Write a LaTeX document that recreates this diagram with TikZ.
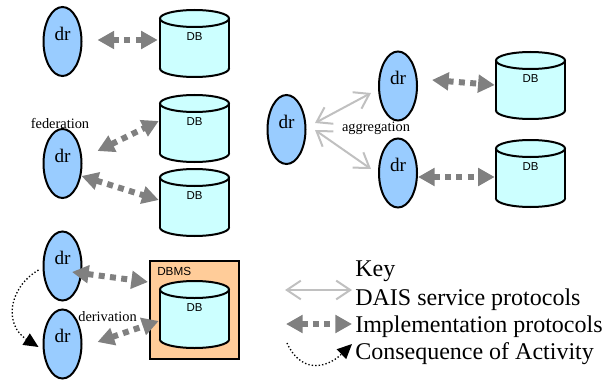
\documentclass[tikz,border=0pt]{standalone}
\usepackage{fontspec}
\setmainfont{Liberation Serif}
\newfontfamily\dbfont{Liberation Sans}
\usetikzlibrary{shapes.geometric,arrows.meta,calc}

\definecolor{drblue}{HTML}{99CCFF}
\definecolor{dbcyan}{HTML}{CCFFFF}
\definecolor{dbmsorange}{HTML}{FFCC99}
\definecolor{implgray}{HTML}{808080}
\definecolor{daisgray}{HTML}{C0C0C0}

\tikzset{
  drnode/.style={ellipse, draw=black, line width=1.5pt, fill=drblue,
    minimum width=28.5pt, minimum height=51.75pt, inner sep=0pt},
  drtext/.style={font=\fontsize{14.4}{16}\selectfont, inner sep=0pt, yshift=6pt},
  dbframe/.style={rectangle, minimum width=51.75pt, minimum height=50.25pt, inner sep=0pt},
  dbline/.style={draw=black, line width=1.5pt, fill=dbcyan},
  dbtext/.style={font=\dbfont\fontsize{8.6}{10}\selectfont, inner sep=0pt},
  dbmsbox/.style={rectangle, draw=black, line width=1.5pt, fill=dbmsorange,
    minimum width=66.75pt, minimum height=73.5pt, inner sep=0pt},
  relname/.style={font=\fontsize{10.8}{12}\selectfont, inner sep=0pt},
  keytext/.style={font=\fontsize{18}{20}\selectfont, inner sep=0pt, anchor=west},
  impl/.style={draw=implgray, line width=4.5pt, dash pattern=on 4.5pt off 4pt,
    {Triangle[length=12.5pt,width=13pt]}-{Triangle[length=12.5pt,width=13pt]}},
  dais/.style={draw=daisgray, line width=1.5pt,
    {Straight Barb[length=10.5pt,width=14pt]}-{Straight Barb[length=10.5pt,width=14pt]}},
  activity/.style={draw=black, line width=1pt, dash pattern=on 1pt off 1.6pt,
    -{Triangle[length=11pt,width=10pt]}},
}

% database cylinder: name, centre x, top y
\newcommand\dbcyl[3]{%
  \node[dbframe] (#1) at (#2,#3+33.5) {};
  \filldraw[dbline] (#2,#3+58.5) ellipse [x radius=34.5, y radius=8.5];
  \fill[dbcyan] (#2-34.5,#3+8.5) rectangle (#2+34.5,#3+58.5);
  \draw[line width=1.5pt] (#2-34.5,#3+8.5) -- (#2-34.5,#3+58.5)
                          (#2+34.5,#3+8.5) -- (#2+34.5,#3+58.5);
  \filldraw[dbline] (#2,#3+8.5) ellipse [x radius=34.5, y radius=8.5];
  \node[dbtext] (#1-label) at (#2,#3+27) {DB};
}

\begin{document}
\begin{tikzpicture}[x=0.75pt,y=-0.75pt]
\useasboundingbox (0,0) rectangle (602,381);

% data resources
\node[drnode] (d1) at (62.5,41.5) {};
\node[drtext] (d1-t) at (d1.center) {dr};
\node[drnode] (d2) at (62.5,163.5) {};
\node[drtext] (d2-t) at (d2.center) {dr};
\node[drnode] (d3) at (62.5,266) {};
\node[drtext] (d3-t) at (d3.center) {dr};
\node[drnode] (d4) at (62.5,344) {};
\node[drtext] (d4-t) at (d4.center) {dr};
\node[drnode] (d5) at (286.5,129.5) {};
\node[drtext] (d5-t) at (d5.center) {dr};
\node[drnode] (d6) at (398,86) {};
\node[drtext] (d6-t) at (d6.center) {dr};
\node[drnode] (d7) at (398,173) {};
\node[drtext] (d7-t) at (d7.center) {dr};

% databases
\dbcyl{db1}{194.5}{10}
\dbcyl{db2}{194.5}{95}
\dbcyl{db3}{194.5}{169}
\dbcyl{db5}{530.5}{52}
\dbcyl{db6}{530.5}{140}

% DBMS wrapping a database
\node[dbmsbox] (dbms) at (194.5,310) {};
\node[dbtext, anchor=west, font=\dbfont\fontsize{8.8}{10}\selectfont] (dbms-t) at (157,271) {DBMS};
\dbcyl{db4}{194.5}{281}

% relation names
\node[relname] (fed) at (60,124) {federation};
\node[relname] (der) at (107.5,317) {derivation};
\node[relname] (agg) at (376,128) {aggregation};

% implementation protocols
\draw[impl] ($(d1.east)+(15,-1.5)$) -- ($(db1.west)+(-2,-3.5)$);
\draw[impl] ($(d2.east)+(15,-12.5)$) -- ($(db2.west)+(-1,-7.5)$);
\draw[impl] ($(d2.east)+(-1,12.5)$) -- ($(db3.west)+(-1,-2.5)$);
\draw[impl] ($(d3.center)+(9.5,6)$) -- ($(dbms.north west)+(-1,22)$);
\draw[impl] ($(d4.east)+(15,-2)$) -- ($(db4.west)+(-1,6.5)$);
\draw[impl] ($(d6.east)+(14,-6)$) -- ($(db5.west)+(-1,-0.5)$);
\draw[impl] ($(d7.east)+(0,4)$) -- ($(db6.west)+(-1,3.5)$);

% DAIS service protocols
\draw[dais] ($(d5.east)+(8.5,-6.5)$) -- ($(d6.west)+(-7,7)$);
\draw[dais] ($(d5.east)+(8.5,0.5)$) -- ($(d7.west)+(-7,-4)$);

% consequence of activity
\draw[activity] ($(d3.west)+(-4,4)$) .. controls (8,288) and (4,325) .. ($(d4.west)+(-4,3)$);

% key
\node[keytext] (k0) at (355,271) {Key};
\node[keytext] (k1) at (355,300) {DAIS service protocols};
\node[keytext] (k2) at (355,327) {Implementation protocols};
\node[keytext] (k3) at (355,354) {Consequence of Activity};
\coordinate (k1a) at (285,290);
\coordinate (k2a) at (286,324);
\coordinate (k3a) at (287,343);
\draw[dais] (k1a) -- ($(k1.west)+(-3,-10)$);
\draw[impl] (k2a) -- ($(k2.west)+(-3,-3)$);
\draw[activity] (k3a) .. controls (300,372) and (325,370) .. ($(k3.west)+(-3,-10)$);
\end{tikzpicture}
\end{document}
